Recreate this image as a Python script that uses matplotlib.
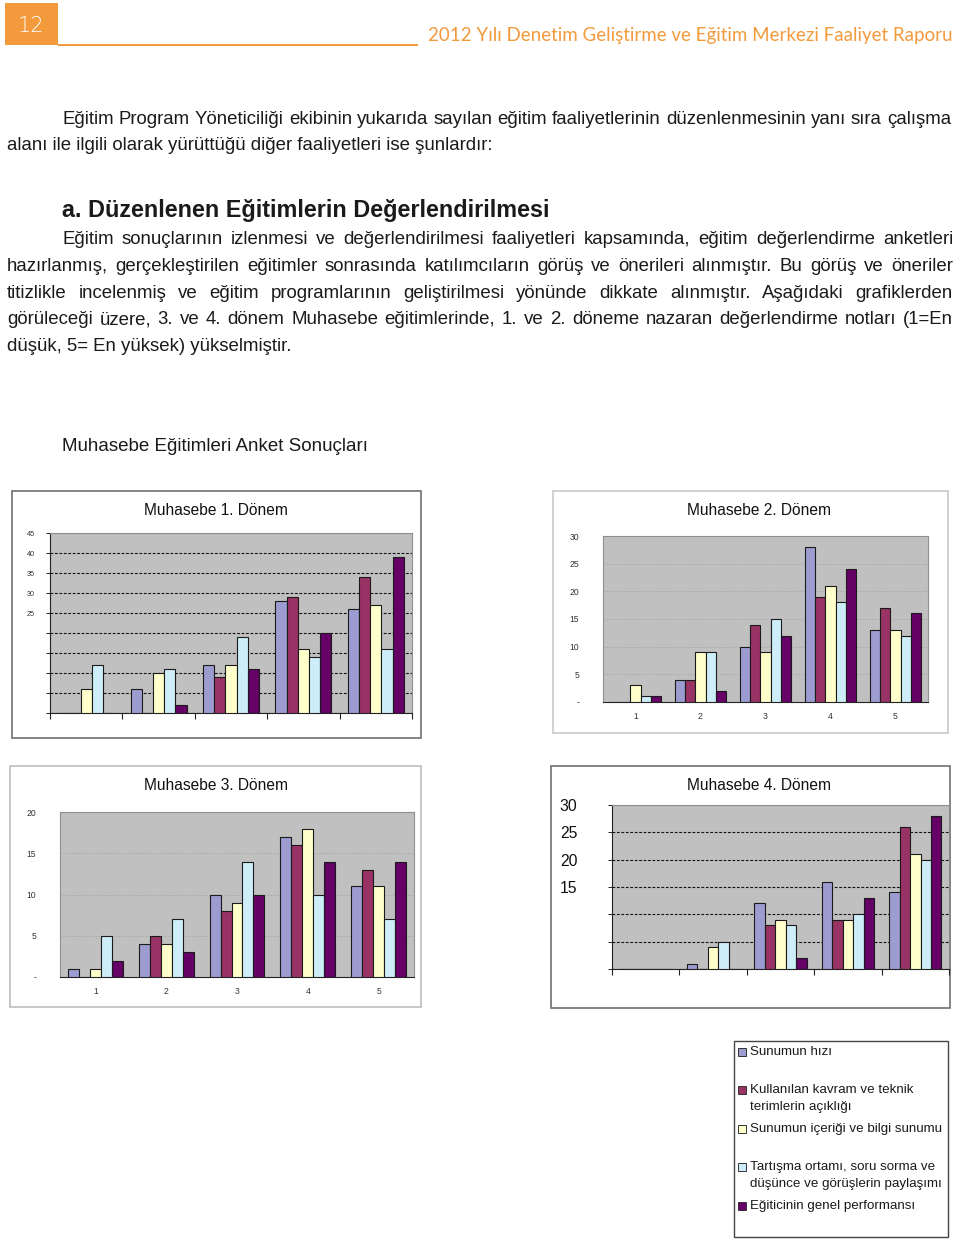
import matplotlib
matplotlib.use("Agg")
import matplotlib.pyplot as plt
from matplotlib.patches import Rectangle
import numpy as np

# ---------------- data ----------------
groups = ["1", "2", "3", "4", "5"]
series_names = [
    "Sunumun hızı",
    "Kullanılan kavram ve teknik\nterimlerin açıklığı",
    "Sunumun içeriği ve bilgi sunumu",
    "Tartışma ortamı, soru sorma ve\ndüşünce ve görüşlerin paylaşımı",
    "Eğiticinin genel performansı",
]
series_colors = ["#9c9cd0", "#993366", "#ffffcc", "#cdeef8", "#660066"]

# values[series][group]
donem1 = [
    [0, 6, 12, 28, 26],
    [0, 0, 9, 29, 34],
    [6, 10, 12, 16, 27],
    [12, 11, 19, 14, 16],
    [0, 2, 11, 20, 39],
]
donem2 = [
    [0, 4, 10, 28, 13],
    [0, 4, 14, 19, 17],
    [3, 9, 9, 21, 13],
    [1, 9, 15, 18, 12],
    [1, 2, 12, 24, 16],
]
donem3 = [
    [1, 4, 10, 17, 11],
    [0, 5, 8, 16, 13],
    [1, 4, 9, 18, 11],
    [5, 7, 14, 10, 7],
    [2, 3, 10, 14, 14],
]
donem4 = [
    [0, 1, 12, 16, 14],
    [0, 0, 8, 9, 26],
    [0, 4, 9, 9, 21],
    [0, 5, 8, 10, 20],
    [0, 0, 2, 13, 28],
]
chart_titles = ["Muhasebe 1. Dönem", "Muhasebe 2. Dönem", "Muhasebe 3. Dönem", "Muhasebe 4. Dönem"]

header_num = "12"
header_title = "2012 Yılı Denetim Geliştirme ve Eğitim Merkezi Faaliyet Raporu"
para1 = ["Eğitim Program Yöneticiliği ekibinin yukarıda sayılan eğitim faaliyetlerinin düzenlenmesinin yanı sıra çalışma",
         "alanı ile ilgili olarak yürüttüğü diğer faaliyetleri ise şunlardır:"]
heading = "a. Düzenlenen Eğitimlerin Değerlendirilmesi"
para2 = ["Eğitim sonuçlarının izlenmesi ve değerlendirilmesi faaliyetleri kapsamında, eğitim değerlendirme anketleri",
         "hazırlanmış, gerçekleştirilen eğitimler sonrasında katılımcıların görüş ve önerileri alınmıştır. Bu görüş ve öneriler",
         "titizlikle incelenmiş ve eğitim programlarının geliştirilmesi yönünde dikkate alınmıştır. Aşağıdaki grafiklerden",
         "görüleceği üzere, 3. ve 4. dönem Muhasebe eğitimlerinde, 1. ve 2. döneme nazaran değerlendirme notları (1=En",
         "düşük, 5= En yüksek) yükselmiştir."]
subtitle = "Muhasebe Eğitimleri Anket Sonuçları"

# ---------------- layout helpers ----------------
W, H = 960, 1239
fig = plt.figure(figsize=(W / 100, H / 100), dpi=100)
fig.patch.set_facecolor("white")
renderer = fig.canvas.get_renderer()
ORANGE = "#f39a3c"
TXT = "#1a1a1a"
BODY_FONT = "Liberation Sans"


def fx(x):
    return x / W


def fy(y):
    return 1 - y / H


def px_rect(x0, y0, x1, y1):
    return [x0 / W, 1 - y1 / H, (x1 - x0) / W, (y1 - y0) / H]


def text_width(t):
    bb = t.get_window_extent(renderer=renderer)
    return bb.width


def fit_text(s, x0, x1, y, size, **kw):
    t = fig.text(fx(x0), fy(y), s, fontsize=size, va="baseline", ha="left", **kw)
    w = text_width(t)
    t.set_fontsize(size * (x1 - x0) / w)
    return t


def justify_line(s, x0, x1, y, size, **kw):
    words = s.split(" ")
    ts = [fig.text(0, fy(y), w_, fontsize=size, va="baseline", ha="left", **kw) for w_ in words]
    widths = [text_width(t) for t in ts]
    gap = (x1 - x0 - sum(widths)) / (len(words) - 1)
    x = x0
    for t, w_ in zip(ts, widths):
        t.set_x(fx(x))
        x += w_ + gap


def left_line(s, x0, y, size, **kw):
    return fig.text(fx(x0), fy(y), s, fontsize=size, va="baseline", ha="left", **kw)


# ---------------- header ----------------
fig.add_artist(Rectangle((fx(5), fy(45)), fx(53), 42 / H, transform=fig.transFigure,
                         facecolor=ORANGE, edgecolor="none"))
fig.text(fx(31), fy(26), header_num, color="white", fontsize=15, ha="center", va="center",
         family="DejaVu Sans", fontweight="light")
fig.add_artist(Rectangle((fx(58), fy(46)), fx(360), 2 / H, transform=fig.transFigure,
                         facecolor=ORANGE, edgecolor="none"))
fit_text(header_title, 428, 953, 41, 14, color=ORANGE, family="Lato")

# ---------------- body text ----------------
BS = 13.4
justify_line(para1[0], 62, 951, 124, BS, color=TXT, family=BODY_FONT)
left_line(para1[1], 7, 150, BS, color=TXT, family=BODY_FONT)
fit_text(heading, 62, 548, 217, 16, color=TXT, family=BODY_FONT, fontweight="bold")
justify_line(para2[0], 62, 953, 244, BS, color=TXT, family=BODY_FONT)
for i, ln in enumerate(para2[1:4]):
    justify_line(ln, 7, 953, 271 + 26.7 * i, BS, color=TXT, family=BODY_FONT)
left_line(para2[4], 7, 351, BS, color=TXT, family=BODY_FONT)
left_line(subtitle, 62, 451, BS + 0.1, color=TXT, family=BODY_FONT)

# ---------------- chart boxes ----------------
boxes = [(12, 491, 421, 738), (553, 491, 948, 733), (10, 766, 421, 1007), (551, 766, 950, 1008)]
box_edges = ["#707070", "#c8c8c8", "#bdbdbd", "#707070"]
for (x0, y0, x1, y1), ec in zip(boxes, box_edges):
    fig.add_artist(Rectangle((fx(x0), fy(y1)), (x1 - x0) / W, (y1 - y0) / H,
                             transform=fig.transFigure, facecolor="white", edgecolor=ec, lw=1.2,
                             zorder=-10))

plot_areas = [(50, 533, 412, 713), (603, 536, 928, 702), (60, 812, 414, 977), (612, 805, 949, 969)]
title_pos = [(216, 510), (759, 510), (216, 785), (759, 785)]
datasets = [donem1, donem2, donem3, donem4]
ymax = [45, 30, 20, 30]

bw = 0.155
xg = np.arange(len(groups))

for ci in range(4):
    ax = fig.add_axes(px_rect(*plot_areas[ci]))
    ax.set_zorder(5)
    ax.set_facecolor("#c0c0c0")
    data = datasets[ci]
    for k in range(5):
        ax.bar(xg + (k - 2) * bw, data[k], width=bw, color=series_colors[k],
               edgecolor="#1a1a1a", linewidth=0.8, zorder=3)
    ax.set_xlim(-0.5, 4.5)
    ax.set_ylim(0, ymax[ci])
    yt = np.arange(0, ymax[ci] + 1, 5)
    ax.set_yticks(yt)
    if ci in (0, 3):
        ax.yaxis.grid(True, color="#111111", linestyle=(0, (2.5, 1.5)), linewidth=0.8, zorder=1)
    else:
        ax.yaxis.grid(True, color="#a8a8a8", linestyle=(0, (1.5, 1.5)), linewidth=0.7, zorder=1)
    ax.set_axisbelow(True)
    # boundaries ticks
    ax.set_xticks(np.arange(-0.5, 5, 1.0))
    ax.set_xticklabels([])
    ax.tick_params(axis="x", which="major", length=4, width=0.8, color="#222222", direction="out")
    for s in ["top", "right"]:
        ax.spines[s].set_color("#909090")
        ax.spines[s].set_linewidth(0.8)
    ax.spines["bottom"].set_color("#222222")
    ax.spines["left"].set_color("#909090" if ci in (1, 2) else "#222222")

    if ci == 0:
        labs = [str(v) if v >= 25 else "" for v in yt]
        ax.set_yticklabels(labs, fontsize=5.2, family=BODY_FONT, color="#333333")
        ax.tick_params(axis="y", length=3, pad=8, width=0.6)
    elif ci == 3:
        labs = [str(v) if v >= 15 else "" for v in yt]
        ax.set_yticklabels(labs, fontsize=11.3, family=BODY_FONT, color="#111111")
        ax.tick_params(axis="y", length=3, pad=22, width=0.6)
        ax.spines["right"].set_visible(False)
    else:
        labs = [str(v) if v > 0 else "-" for v in yt]
        ax.set_yticklabels(labs, fontsize=6.2, family=BODY_FONT, color="#333333")
        ax.tick_params(axis="y", length=0, pad=17)
        ax.set_xticks(xg, minor=True)
        ax.set_xticklabels(groups, minor=True, fontsize=6.2, family=BODY_FONT, color="#333333")
        ax.tick_params(axis="x", which="minor", length=0, pad=7)
        ax.tick_params(axis="x", which="major", length=0)
    tx, ty = title_pos[ci]
    fig.text(fx(tx), fy(ty), chart_titles[ci], ha="center", va="center", fontsize=11.2,
             family=BODY_FONT, color="#111111")

# ---------------- legend ----------------
fig.add_artist(Rectangle((fx(734), fy(1237)), 214 / W, 196 / H, transform=fig.transFigure,
                         facecolor="white", edgecolor="#444444", lw=1.0, zorder=-10))
leg_rows = [1052, 1090, 1129, 1167, 1206]
for k in range(5):
    y = leg_rows[k]
    fig.add_artist(Rectangle((fx(738), fy(y + 4)), 8 / W, 8 / H, transform=fig.transFigure,
                             facecolor=series_colors[k], edgecolor="#333333", lw=0.7))
    lines = series_names[k].split("\n")
    for j, ln in enumerate(lines):
        fig.text(fx(750), fy(y + 17 * j), ln, ha="left", va="center", fontsize=9.6,
                 family=BODY_FONT, color="#1a1a1a")

fig.savefig("out.png", dpi=100, facecolor="white")
